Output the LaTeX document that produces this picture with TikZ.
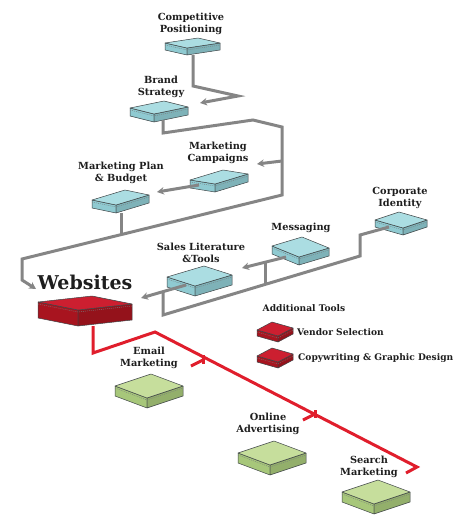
\documentclass[tikz,border=0pt]{standalone}
\usepackage{fontspec}
\setmainfont{DejaVu Serif}
\usetikzlibrary{calc,arrows.meta}
\definecolor{gline}{HTML}{858585}
\definecolor{rline}{HTML}{E01E2C}
\definecolor{bluetop}{HTML}{ABDDE2}
\definecolor{blueside}{HTML}{8FCAD1}
\definecolor{greentop}{HTML}{C6DE9C}
\definecolor{greenside}{HTML}{A7C77A}
\definecolor{redtop}{HTML}{CC1F30}
\definecolor{redside}{HTML}{A8141F}
\definecolor{edgecol}{HTML}{3E4446}
\definecolor{txt}{HTML}{1E1E1E}
% #1 name, #2 left corner, #3 vector to top corner, #4 vector to front corner, #5 height, #6 top colour, #7 side colour
\newcommand\slabbox[7]{%
  \coordinate (#1-L) at (#2);
  \coordinate (#1-T) at ($(#1-L)+(#3)$);
  \coordinate (#1-F) at ($(#1-L)+(#4)$);
  \coordinate (#1-R) at ($(#1-T)+(#4)$);
  \filldraw[boxedge, fill=#7] (#1-L) -- (#1-F) -- ($(#1-F)+(0,#5)$) -- ($(#1-L)+(0,#5)$) -- cycle;
  \filldraw[boxedge, fill=#7!88!black] (#1-F) -- (#1-R) -- ($(#1-R)+(0,#5)$) -- ($(#1-F)+(0,#5)$) -- cycle;
  \filldraw[boxedge, fill=#6] (#1-L) -- (#1-T) -- (#1-R) -- (#1-F) -- cycle;
  \draw[stitch] ($(#1-L)+(0,2)$) -- ($(#1-F)+(0,2)$) -- ($(#1-R)+(0,2)$);
}
\tikzset{
  boxedge/.style={draw=edgecol, line width=0.5pt, line join=round},
  stitch/.style={draw=edgecol!70, line width=0.4pt, dash pattern=on 1pt off 1pt},
  lbl/.style={font=\bfseries\fontsize{9.8}{11.5}\selectfont, text=txt, align=center, inner sep=0pt},
  keylbl/.style={lbl, anchor=west, font=\bfseries\fontsize{9.1}{11}\selectfont},
  grayconn/.style={draw=gline, line width=3pt, line join=miter},
  grayarrow/.style={grayconn, -{Stealth[length=7pt,width=7.5pt]}},
  redconn/.style={draw=rline, line width=3pt, line join=miter},
}
\begin{document}
\begin{tikzpicture}[x=1pt,y=-1pt]
\useasboundingbox (0,0) rectangle (466,517);

% ---------- boxes ----------
\slabbox{cp}{165,43}{33,-5}{22,5}{7}{bluetop}{blueside}
\slabbox{bs}{130,108}{34,-7}{24,6}{8}{bluetop}{blueside}
\slabbox{mc}{190,180}{33,-10}{25,4}{8}{bluetop}{blueside}
\slabbox{mp}{92,200}{33,-10}{24,5}{8}{bluetop}{blueside}
\slabbox{ci}{375,220}{24,-8}{28,8}{7}{bluetop}{blueside}
\slabbox{mg}{272,246}{30,-9}{27,11}{8}{bluetop}{blueside}
\slabbox{sl}{167,277}{37,-11}{28,9}{10}{bluetop}{blueside}
\slabbox{ws}{38,302}{54,-6}{40,8}{16}{redtop}{redside}
\slabbox{em}{115,386}{36,-12}{32,12}{10}{greentop}{greenside}
\slabbox{oa}{238,453}{36,-12}{32,12}{10}{greentop}{greenside}
\slabbox{sm}{342,492}{36,-12}{32,12}{10}{greentop}{greenside}
\slabbox{vs}{257,330}{15,-8}{21,6}{6}{redtop}{redside}
\slabbox{cw}{257,356}{15,-8}{21,6}{6}{redtop}{redside}

% ---------- labels ----------
\node[lbl] (t-cp) at (191,24) {Competitive\\Positioning};
\node[lbl] (t-bs) at (161,87) {Brand\\Strategy};
\node[lbl] (t-mp) at (121,173) {Marketing Plan\\\& Budget};
\node[lbl] (t-mc) at (218,153) {Marketing\\Campaigns};
\node[lbl] (t-ci) at (400,198) {Corporate\\Identity};
\node[lbl] (t-mg) at (301,228) {Messaging};
\node[lbl] (t-sl) at (201,253) {Sales Literature\\\&Tools};
\node[lbl, font=\bfseries\fontsize{19}{20}\selectfont] (t-ws) at (85,282) {Websites};
\node[lbl, font=\bfseries\fontsize{9.1}{11}\selectfont] (t-at) at (304,308) {Additional Tools};
\node[keylbl] (t-vs) at (297,332) {Vendor Selection};
\node[keylbl] (t-cw) at (298,358) {Copywriting \& Graphic Design};
\node[lbl] (t-em) at (149,358) {Email\\Marketing};
\node[lbl] (t-oa) at (268,424) {Online\\Advertising};
\node[lbl] (t-sm) at (369,467) {Search\\Marketing};

% ---------- connector end points ----------
\coordinate (cp-out) at (193,55);
\coordinate (bs-in) at (200,103);
\coordinate (bs-out) at (163,120);
\coordinate (mc-in) at (257,164);
\coordinate (mc-out) at (199,185);
\coordinate (mp-in) at (157,192);
\coordinate (mp-out) at (121,213);
\coordinate (j1) at (282,161);
\coordinate (j2) at (121,235);
\coordinate (ws-in1) at (36,289);
\coordinate (ci-out) at (389,227);
\coordinate (sl-out) at (186,285);
\coordinate (ws-in2) at (141,298);
\coordinate (mg-out) at (286,257);
\coordinate (sl-in) at (242,268);
\coordinate (j3) at (265,262);
\coordinate (j4) at (265,284);
\coordinate (ws-out) at (93,326);
\coordinate (em-in) at (191,366);
\coordinate (oa-in) at (303,420);
\coordinate (sm-in) at (406,473);

% ---------- gray connectors ----------
\draw[grayarrow] (cp-out) -- (193,86) -- (238,96) -- (bs-in);
\draw[grayarrow] (bs-out) -- (163,133) -- (253,120) -- (282,127) -- (282,195) -- (22,259) -- (22,280) -- (ws-in1);
\draw[grayarrow] (j1) -- (mc-in);
\draw[grayconn] (j2) -- (mp-out);
\draw[grayarrow] (mc-out) -- (mp-in);
\draw[grayconn] (ci-out) -- (360,235) -- (360,256) -- (163,315) -- (163,291);
\draw[grayarrow] (sl-out) -- (ws-in2);
\draw[grayarrow] (mg-out) -- (sl-in);
\draw[grayconn] (j3) -- (j4);

% ---------- red connectors ----------
\draw[redconn] (ws-out) -- (93,353) -- (155,332) -- (417,467) -- (sm-in);
\draw[redconn] (203,355) -- (203,364);
\draw[redconn] (203,360) -- (em-in);
\draw[redconn] (315,410) -- (315,418);
\draw[redconn] (315,414) -- (oa-in);
\end{tikzpicture}
\end{document}
